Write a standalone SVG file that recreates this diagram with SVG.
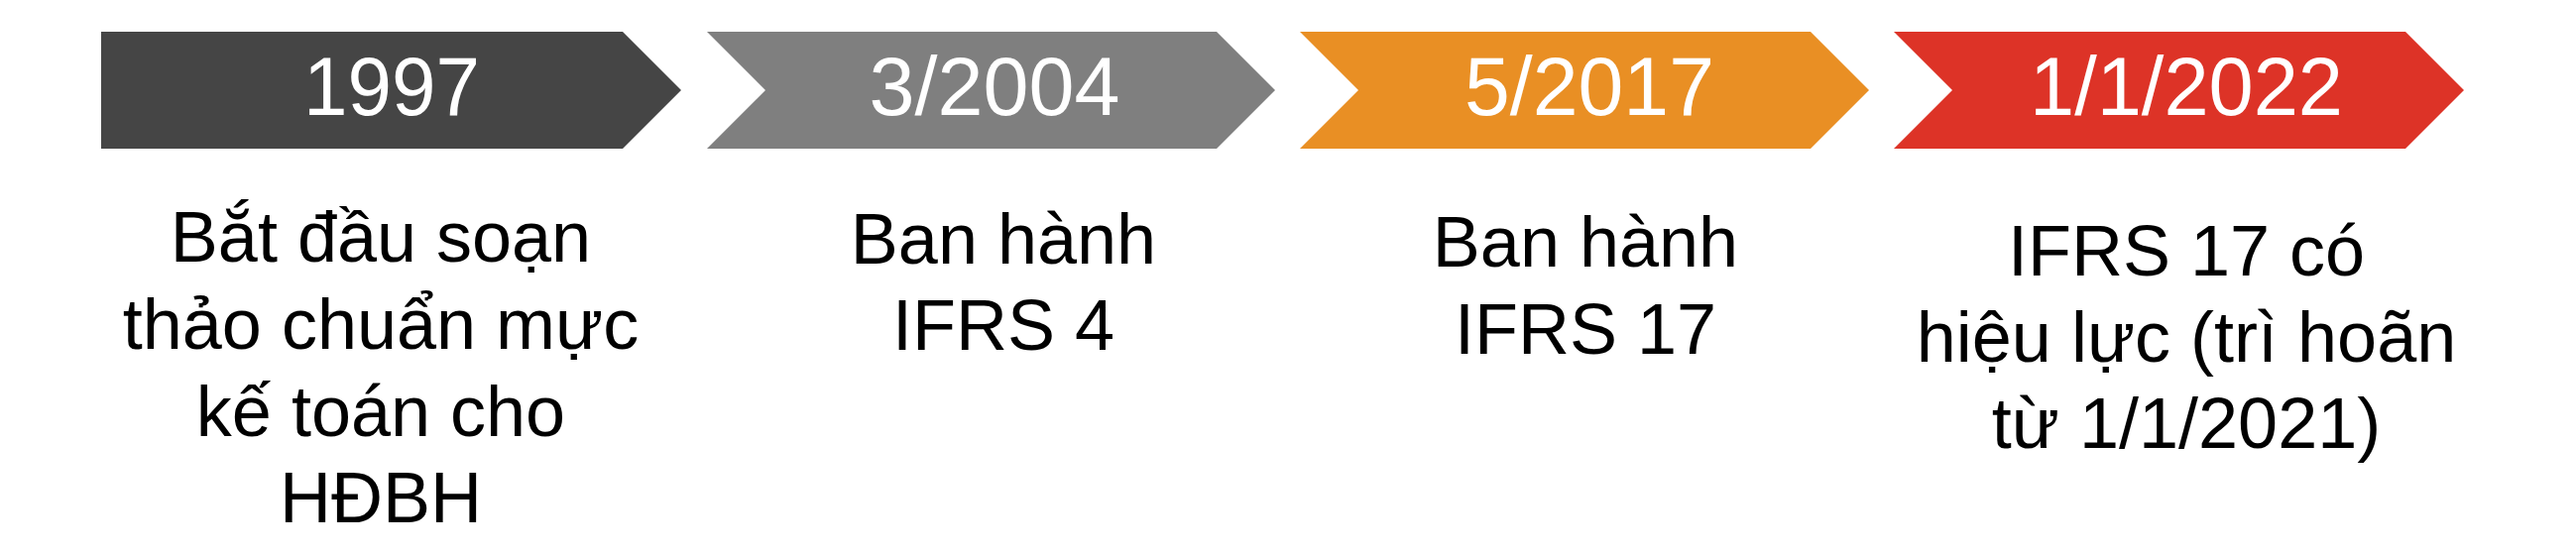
<svg xmlns="http://www.w3.org/2000/svg" width="2598" height="558" viewBox="0 0 2598 558">
<style>
.lbl{font-family:"Liberation Sans",Arial,sans-serif;font-size:84px;fill:#ffffff;text-anchor:middle}
.desc{font-family:"Liberation Sans",Arial,sans-serif;font-size:72px;fill:#000000;text-anchor:middle}
</style>
<rect width="2598" height="558" fill="#ffffff"/>
<g id="connectors"></g>
<g id="step-1997">
<path d="M102,32 H628 L687,91 L628,150 H102 Z" fill="#454545"/>
<text class="lbl" x="395" y="116" textLength="178" lengthAdjust="spacingAndGlyphs">1997</text>
<text class="desc" x="384"><tspan x="384" y="264">Bắt đầu soạn</tspan><tspan x="384" y="352">thảo chuẩn mực</tspan><tspan x="384" y="440">kế toán cho</tspan><tspan x="384" y="527">HĐBH</tspan></text>
</g>
<g id="step-2004">
<path d="M713,32 H1227 L1286,91 L1227,150 H713 L772,91 Z" fill="#7f7f7f"/>
<text class="lbl" x="1003" y="116" textLength="253" lengthAdjust="spacingAndGlyphs">3/2004</text>
<text class="desc"><tspan x="1012" y="266">Ban hành</tspan><tspan x="1012" y="353">IFRS 4</tspan></text>
</g>
<g id="step-2017">
<path d="M1311,32 H1826 L1885,91 L1826,150 H1311 L1370,91 Z" fill="#e98f24"/>
<text class="lbl" x="1603" y="116" textLength="252" lengthAdjust="spacingAndGlyphs">5/2017</text>
<text class="desc"><tspan x="1599" y="269">Ban hành</tspan><tspan x="1599" y="357">IFRS 17</tspan></text>
</g>
<g id="step-2022">
<path d="M1910,32 H2426 L2485,91 L2426,150 H1910 L1969,91 Z" fill="#dd3327"/>
<text class="lbl" x="2205" y="116" textLength="316" lengthAdjust="spacingAndGlyphs">1/1/2022</text>
<text class="desc"><tspan x="2205" y="278">IFRS 17 có</tspan><tspan x="2205" y="365">hiệu lực (trì hoãn</tspan><tspan x="2205" y="452">từ 1/1/2021)</tspan></text>
</g>
</svg>
